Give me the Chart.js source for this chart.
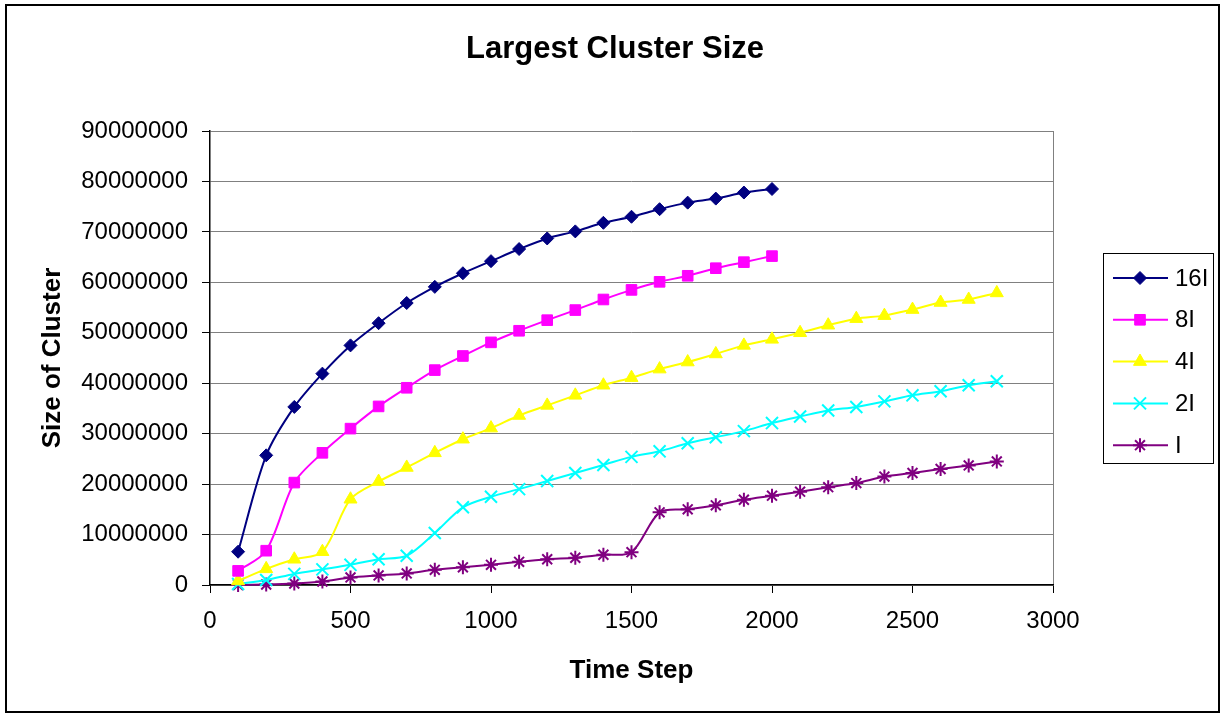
<!DOCTYPE html>
<html>
<head>
<meta charset="utf-8">
<title>Largest Cluster Size</title>
<script src="https://cdn.jsdelivr.net/npm/chart.js@4.4.1/dist/chart.umd.min.js"></script>
<style>
    html, body { margin: 0; padding: 0; background: #fff; }
</style>
</head>
<body>
<canvas id="clusterChart" width="1222" height="715"></canvas>
<script>
// Data
const timeSteps = [100, 200, 300, 400, 500, 600, 700, 800, 900, 1000, 1100, 1200, 1300, 1400,
    1500, 1600, 1700, 1800, 1900, 2000, 2100, 2200, 2300, 2400, 2500, 2600, 2700, 2800];

const seriesNames = ['16I', '8I', '4I', '2I', 'I'];

const size16I = [6600000, 25700000, 35300000, 41900000, 47500000, 51900000, 55900000, 59100000,
    61800000, 64200000, 66600000, 68700000, 70100000, 71800000, 73000000, 74500000, 75800000,
    76600000, 77800000, 78500000];
const size8I = [2800000, 6800000, 20300000, 26200000, 31000000, 35400000, 39100000, 42600000,
    45400000, 48100000, 50400000, 52500000, 54500000, 56600000, 58500000, 60100000, 61300000,
    62800000, 64000000, 65200000];
const size4I = [800000, 3200000, 5100000, 6600000, 17000000, 20500000, 23300000, 26200000,
    28900000, 31100000, 33600000, 35600000, 37600000, 39600000, 41100000, 42800000, 44200000,
    45800000, 47500000, 48700000, 50000000, 51500000, 52800000, 53400000, 54600000, 56000000,
    56600000, 57900000];
const size2I = [200000, 1000000, 2200000, 3100000, 4000000, 5100000, 5800000, 10300000,
    15400000, 17500000, 19000000, 20600000, 22200000, 23800000, 25400000, 26500000, 28100000,
    29300000, 30500000, 32100000, 33400000, 34600000, 35300000, 36400000, 37600000, 38400000,
    39600000, 40400000];
const sizeI = [0, 100000, 300000, 700000, 1500000, 1900000, 2300000, 3000000, 3500000, 4000000,
    4600000, 5100000, 5400000, 6000000, 6500000, 14400000, 15000000, 15800000, 16900000,
    17700000, 18500000, 19400000, 20200000, 21500000, 22200000, 23000000, 23700000, 24500000];

const xTicks = [0, 500, 1000, 1500, 2000, 2500, 3000];
const yTicks = [0, 10000000, 20000000, 30000000, 40000000, 50000000, 60000000, 70000000, 80000000, 90000000];

const FONT = 'Arial, "Liberation Sans", sans-serif';
Chart.defaults.font.family = FONT;
Chart.defaults.color = '#000';

function toPoints(values) {
    return values.map((v, i) => ({ x: timeSteps[i], y: v }));
}

function makeDataset(label, values, color, style, radius, border) {
    return {
        label: label,
        data: toPoints(values),
        borderColor: color,
        backgroundColor: color,
        borderWidth: 2,
        pointStyle: style,
        pointRadius: radius,
        pointHoverRadius: radius,
        pointBackgroundColor: color,
        pointBorderColor: color,
        pointBorderWidth: border,
        tension: 0.3,
        clip: false
    };
}

// Outer frame + chart title
const framePlugin = {
    id: 'frame',
    beforeDraw(chart) {
        const ctx = chart.ctx;
        ctx.save();
        ctx.fillStyle = '#fff';
        ctx.fillRect(0, 0, chart.width, chart.height);
        ctx.strokeStyle = '#000';
        ctx.lineWidth = 2;
        ctx.strokeRect(6, 5, 1213, 707);
        ctx.restore();
    },
    afterDraw(chart) {
        const ctx = chart.ctx;
        ctx.save();
        ctx.fillStyle = '#000';
        ctx.font = 'bold 31px ' + FONT;
        ctx.textAlign = 'center';
        ctx.textBaseline = 'middle';
        ctx.fillText('Largest Cluster Size', 615, 49);
        ctx.restore();
    }
};

// Boxed legend on the right, line + marker like the original
const legendPlugin = {
    id: 'boxLegend',
    afterDraw(chart) {
        const ctx = chart.ctx;
        ctx.save();
        ctx.strokeStyle = '#000';
        ctx.lineWidth = 1;
        ctx.strokeRect(1103.5, 253.5, 110, 210);
        chart.data.datasets.forEach((ds, i) => {
            const y = 278 + i * 41.8;
            ctx.strokeStyle = ds.borderColor;
            ctx.lineWidth = 2;
            ctx.beginPath();
            ctx.moveTo(1113, y);
            ctx.lineTo(1168, y);
            ctx.stroke();

            ctx.fillStyle = ds.pointBackgroundColor;
            ctx.strokeStyle = ds.pointBorderColor;
            ctx.lineWidth = ds.pointBorderWidth;
            Chart.helpers.drawPoint(ctx, {
                pointStyle: ds.pointStyle,
                radius: ds.pointRadius,
                rotation: 0,
                borderWidth: ds.pointBorderWidth
            }, 1140, y);

            ctx.fillStyle = '#000';
            ctx.font = '24px ' + FONT;
            ctx.textAlign = 'left';
            ctx.textBaseline = 'middle';
            ctx.fillText(ds.label, 1175, y + 1);
        });
        ctx.restore();
    }
};

const ctx = document.getElementById('clusterChart').getContext('2d');
const clusterChart = new Chart(ctx, {
    type: 'line',
    data: {
        datasets: [
            makeDataset(seriesNames[0], size16I, '#000080', 'rectRot', 6.5, 1),
            makeDataset(seriesNames[1], size8I, '#FF00FF', 'rect', 7.5, 1),
            makeDataset(seriesNames[2], size4I, '#FFFF00', 'triangle', 7.5, 1),
            makeDataset(seriesNames[3], size2I, '#00FFFF', 'crossRot', 8.5, 2),
            makeDataset(seriesNames[4], sizeI, '#800080', 'star', 7, 2)
        ]
    },
    options: {
        responsive: false,
        animation: false,
        layout: {
            padding: { top: 131, left: 10, right: 169, bottom: 10 }
        },
        plugins: {
            legend: { display: false },
            title: { display: false },
            tooltip: { enabled: false }
        },
        scales: {
            x: {
                type: 'linear',
                min: 0,
                max: 3000,
                afterFit: scale => { scale.height = 120; },
                afterBuildTicks: scale => { scale.ticks = xTicks.map(v => ({ value: v })); },
                ticks: {
                    padding: 14,
                    font: { size: 24 },
                    color: '#000',
                    maxRotation: 0,
                    callback: value => String(value)
                },
                grid: {
                    color: c => (c.tick && c.tick.value === 3000 ? '#808080' : 'rgba(0,0,0,0)'),
                    tickColor: '#000',
                    tickLength: 8,
                    lineWidth: 1
                },
                border: { color: '#000', width: 1.5 },
                title: {
                    display: true,
                    text: 'Time Step',
                    font: { size: 26, weight: 'bold' },
                    padding: { top: 0, bottom: 19 }
                }
            },
            y: {
                min: 0,
                max: 90000000,
                afterFit: scale => { scale.width = 200; },
                afterBuildTicks: scale => { scale.ticks = yTicks.map(v => ({ value: v })); },
                ticks: {
                    padding: 14,
                    font: { size: 24 },
                    color: '#000',
                    callback: value => String(value)
                },
                grid: {
                    color: '#808080',
                    tickColor: '#000',
                    tickLength: 8,
                    lineWidth: 1
                },
                border: { color: '#000', width: 1.5 },
                title: {
                    display: true,
                    text: 'Size of Cluster',
                    font: { size: 26, weight: 'bold' },
                    padding: { top: 27, bottom: 0 }
                }
            }
        }
    },
    plugins: [framePlugin, legendPlugin]
});
</script>
</body>
</html>
